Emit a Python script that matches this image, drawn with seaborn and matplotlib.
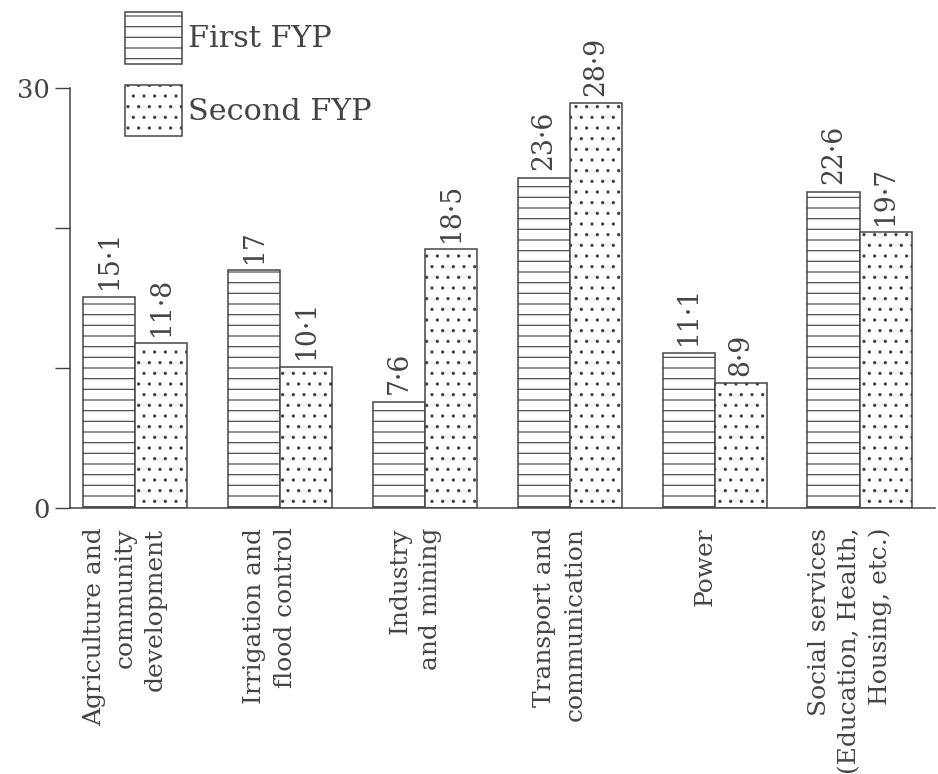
import matplotlib
matplotlib.use("Agg")
import matplotlib.pyplot as plt
import matplotlib.transforms as mtransforms
from matplotlib.patches import Patch
import seaborn as sns
import pandas as pd

categories = ["Agriculture and\ncommunity\ndevelopment",
              "Irrigation and\nflood control",
              "Industry\nand mining",
              "Transport and\ncommunication",
              "Power",
              "Social services\n(Education, Health,\nHousing, etc.)"]
first_fyp = [15.1, 17, 7.6, 23.6, 11.1, 22.6]
second_fyp = [11.8, 10.1, 18.5, 28.9, 8.9, 19.7]
series = ["First FYP", "Second FYP"]
y_ticks = [0, 10, 20, 30]
y_ticklabels = ["0", "", "", "30"]

df = pd.DataFrame({
    "sector": categories * 2,
    "plan": [series[0]] * len(categories) + [series[1]] * len(categories),
    "value": first_fyp + second_fyp,
})

DPI = 64
INK = "#444444"
sns.set_theme(style="white")
plt.rcParams["font.family"] = ["DejaVu Serif"]
plt.rcParams["hatch.linewidth"] = 1.3
plt.rcParams["text.color"] = INK

fig = plt.figure(figsize=(938 / DPI, 774 / DPI), dpi=DPI)
fig.patch.set_facecolor("white")
ax = fig.add_axes([70 / 938, 1 - 508 / 774, 865 / 938, (508 - 88) / 774])

sns.barplot(data=df, x="sector", y="value", hue="plan", order=categories,
            hue_order=series, palette=["white", "white"], width=0.72,
            edgecolor=INK, linewidth=1.7, ax=ax, legend=False, errorbar=None,
            saturation=1)

hatches = ["-", "."]
for cont, h, vals in zip(ax.containers, hatches, [first_fyp, second_fyp]):
    for bar in cont:
        bar.set_hatch(h)
        bar.set_edgecolor(INK)
    ax.bar_label(cont, labels=[f"{v:g}".replace(".", "\u00b7") for v in vals],
                 rotation=90, padding=8, fontsize=30, color=INK)

ax.set_xlim(-0.45, 5.52)
ax.set_ylim(0, 30)
ax.set_yticks(y_ticks)
ax.set_yticklabels(y_ticklabels)
ax.set_xlabel("")
ax.set_ylabel("")
ax.tick_params(axis="y", left=True, length=17, width=1.6, color=INK,
               labelsize=29, labelcolor=INK, pad=6)
ax.tick_params(axis="x", bottom=False, length=0, pad=22)
shift = mtransforms.ScaledTranslation(-10 / DPI, 0, fig.dpi_scale_trans)
for lab in ax.get_xticklabels():
    lab.set_rotation(90)
    lab.set_fontsize(28)
    lab.set_color(INK)
    lab.set_va("top")
    lab.set_ha("center")
    lab.set_multialignment("right")
    lab.set_linespacing(1.4)
    lab.set_transform(lab.get_transform() + shift)

for s in ["top", "right"]:
    ax.spines[s].set_visible(False)
for s in ["left", "bottom"]:
    ax.spines[s].set_color(INK)
    ax.spines[s].set_linewidth(1.7)

handles = [Patch(facecolor="white", edgecolor=INK, hatch=h, linewidth=1.7) for h in hatches]
fig.legend(handles, series, loc="upper left", bbox_to_anchor=(125 / 938, 1 - 12 / 774),
           frameon=False, fontsize=34, handlelength=1.9, handleheight=2.25,
           handletextpad=0.2, labelspacing=0.7, borderpad=0, borderaxespad=0)

fig.savefig("out.png", dpi=DPI, facecolor="white")
